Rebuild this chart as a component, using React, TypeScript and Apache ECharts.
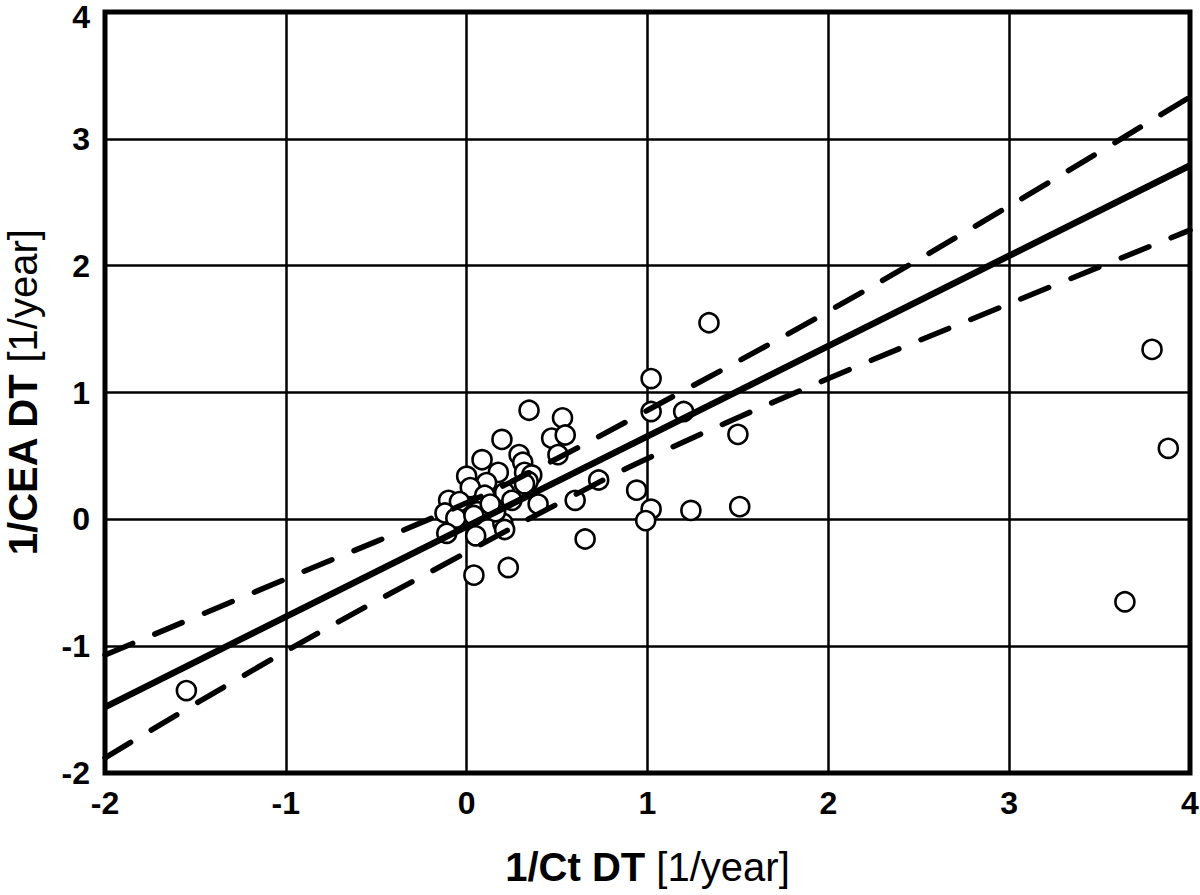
import React, { useEffect, useRef } from "react";
import * as echarts from "echarts";

const xTicks = [-2, -1, 0, 1, 2, 3, 4];
const yTicks = [-2, -1, 0, 1, 2, 3, 4];

// observed points [1/Ct DT, 1/CEA DT]
const points: [number, number][] = [
  [-1.55, -1.35], [1.34, 1.55], [3.79, 1.34], [3.88, 0.56], [3.64, -0.65],
  [1.5, 0.67], [1.51, 0.1], [1.24, 0.07], [1.2, 0.85], [1.02, 1.11],
  [1.02, 0.85], [0.73, 0.31], [0.94, 0.23], [1.02, 0.08], [0.99, -0.01],
  [0.6, 0.15], [0.655, -0.155], [0.395, 0.12], [0.345, 0.86], [0.53, 0.8],
  [0.47, 0.64], [0.545, 0.665], [0.505, 0.51], [0.195, 0.63], [0.29, 0.51],
  [0.085, 0.47], [0.31, 0.45], [0.175, 0.37], [0.0, 0.34], [0.32, 0.37],
  [0.36, 0.35], [0.34, 0.3], [0.11, 0.29], [0.02, 0.25], [0.2, 0.19],
  [0.28, 0.25], [0.32, 0.28], [0.1, 0.19], [-0.1, 0.15], [-0.04, 0.14],
  [0.06, 0.06], [-0.12, 0.05], [-0.06, 0.01], [0.04, 0.03], [-0.11, -0.11],
  [0.05, -0.13], [0.2, -0.03], [0.21, -0.08], [0.04, -0.44], [0.23, -0.38],
  [0.16, 0.06], [0.21, 0.21], [0.13, 0.12], [0.25, 0.15],
];

// regression line end points
const fitLine: [number, number][] = [[-2, -1.48], [4, 2.79]];

// confidence band, read at these x positions
const bandX = [-2, -1, 0, 0.5, 1, 2, 3, 4];
const bandUpper = [-1.07, -0.47, 0.13, 0.48, 0.86, 1.64, 2.47, 3.33];
const bandLower = [-1.88, -1.04, -0.26, 0.12, 0.48, 1.11, 1.7, 2.28];

const FONT = "'Liberation Sans', Arial, sans-serif";
const TICK_FS = 32;
const TITLE_FS = 40;

export default function App() {
  const ref = useRef<HTMLDivElement>(null);
  useEffect(() => {
    if (!ref.current) return;
    const chart = echarts.init(ref.current, null, { renderer: "svg" });
    const upper = bandX.map((x, i) => [x, bandUpper[i]]);
    const lower = bandX.map((x, i) => [x, bandLower[i]]);
    const titleRich = {
      b: { fontSize: TITLE_FS, fontWeight: "bold", fontFamily: FONT, color: "#000" },
      n: { fontSize: TITLE_FS, fontFamily: FONT, color: "#000" },
    };
    chart.setOption({
      animation: false,
      backgroundColor: "#fff",
      grid: {
        left: 105, top: 12, right: 10, bottom: 122,
        containLabel: false,
        outerBoundsMode: "none",
        show: true, borderColor: "#000", borderWidth: 5, backgroundColor: "transparent",
      },
      xAxis: {
        type: "value", min: -2, max: 4, interval: 1,
        axisLine: { show: false },
        axisTick: { show: false },
        splitLine: { show: true, lineStyle: { color: "#000", width: 2.5 } },
        axisLabel: {
          color: "#000", fontSize: TICK_FS, fontWeight: "bold", fontFamily: FONT, margin: 14,
          formatter: (v: number) => (xTicks.includes(v) ? String(v) : ""),
        },
        name: "{b|1/Ct DT} {n|[1/year]}",
        nameLocation: "middle", nameGap: 74,
        nameTextStyle: { color: "#000", fontFamily: FONT, fontSize: TITLE_FS, rich: titleRich },
      },
      yAxis: {
        type: "value", min: -2, max: 4, interval: 1,
        axisLine: { show: false },
        axisTick: { show: false },
        splitLine: { show: true, lineStyle: { color: "#000", width: 2.5 } },
        axisLabel: {
          color: "#000", fontSize: TICK_FS, fontWeight: "bold", fontFamily: FONT, margin: 15,
          formatter: (v: number) =>
            v === 4 ? "{t|4}" : yTicks.includes(v) ? String(v) : "",
          rich: {
            t: {
              fontSize: TICK_FS, fontWeight: "bold", fontFamily: FONT, color: "#000",
              lineHeight: 22, padding: [10, 0, 0, 0],
            },
          },
        },
        name: "{b|1/CEA DT} {n|[1/year]}",
        nameLocation: "middle", nameGap: 62, nameRotate: 90,
        nameTextStyle: { color: "#000", fontFamily: FONT, fontSize: TITLE_FS, rich: titleRich },
      },
      series: [
        {
          type: "scatter", data: points, symbol: "circle", symbolSize: 19, z: 2,
          itemStyle: { color: "#fff", borderColor: "#000", borderWidth: 2.6, opacity: 1 },
        },
        {
          type: "line", data: fitLine, showSymbol: false, symbol: "none", z: 3,
          lineStyle: { color: "#000", width: 6.5 },
        },
        {
          type: "line", data: upper, showSymbol: false, symbol: "none", smooth: 0.4, z: 3,
          lineStyle: { color: "#000", width: 5.5, type: [30, 24], cap: "round" },
        },
        {
          type: "line", data: lower, showSymbol: false, symbol: "none", smooth: 0.4, z: 3,
          lineStyle: { color: "#000", width: 5.5, type: [30, 24], cap: "round" },
        },
      ],
    });
    return () => chart.dispose();
  }, []);
  return (
    <div
      ref={ref}
      style={{ position: "fixed", left: 0, top: 0, width: 1200, height: 895, background: "#fff" }}
    />
  );
}
